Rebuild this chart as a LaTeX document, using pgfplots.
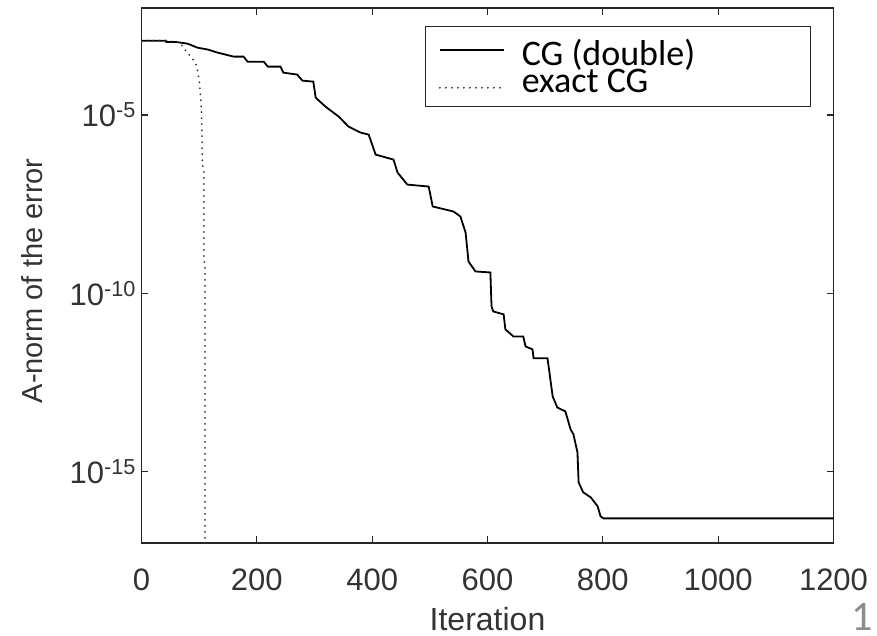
\documentclass[border=0pt]{standalone}
\usepackage{fontspec}
\setmainfont{Liberation Sans}
\newfontfamily\calibri{Carlito}
\usepackage{pgfplots}
\pgfplotsset{compat=1.18}
\pgfplotsset{
  leg a/.style={legend image code/.code={\path[draw=none,fill=none] (0bp,-12bp) rectangle (64bp,12bp); \draw[##1] (0bp,3.5bp) -- (64bp,3.5bp);}},
  leg b/.style={legend image code/.code={\path[draw=none,fill=none] (0bp,-12bp) rectangle (64bp,12bp); \draw[##1] (0bp,-7.5bp) -- (64bp,-7.5bp);}},
}
\begin{document}
\begin{tikzpicture}
\useasboundingbox (-141.5bp,-93bp) rectangle (735.5bp,543bp);
\begin{axis}[
  at={(0,0)}, anchor=south west,
  scale only axis, width=692bp, height=535bp,
  xmin=0, xmax=1200, ymin=1e-17, ymax=1e-2,
  ymode=log,
  xtick={0,200,400,600,800,1000,1200},
  ytick={1e-15,1e-10,1e-5},
  yticklabels={10\textsuperscript{-15},10\textsuperscript{-10},10\textsuperscript{-5}},
  yminorticks=false,
  tick align=inside, major tick length=7bp,
  axis line style={black!85, line width=1.2bp},
  axis background/.style={draw=black!85, line width=1.2bp},
  every tick/.style={black!85, line width=1.2bp},
  tick label style={font=\fontsize{31bp}{37bp}\selectfont, text=black!80},
  /pgf/number format/assume math mode=true,
  /pgf/number format/1000 sep={},
  scaled x ticks=false,
  xticklabel style={anchor=center, yshift=-37bp},
  yticklabel style={xshift=-2bp},
  xlabel={Iteration}, ylabel={A-norm of the error},
  xlabel style={font=\fontsize{32bp}{38bp}\selectfont, text=black!80, at={(axis description cs:0.5,-0.142)}, anchor=center},
  ylabel style={font=\fontsize{29bp}{35bp}\selectfont, text=black!80, at={(axis description cs:-0.1575,0.49)}, anchor=center},
  clip=true,
  legend style={at={(axis description cs:0.41,0.966)}, anchor=north west,
    draw=black!85, line width=1.2bp, inner xsep=13bp, inner ysep=13bp,
    row sep=0pt, column sep=17bp,
    font=\calibri\fontsize{36bp}{36bp}\selectfont,
    nodes={inner sep=0pt, text height=26bp, text depth=1bp}},
  legend cell align=left,
]
\addplot[black, line width=1.8bp, leg a] coordinates {
(0,1.213e-3)(43,1.213e-3)(43,1.117e-3)(59,1.117e-3)(80,1.0e-3)(97,7.73e-4)(116,6.79e-4)(132,5.60e-4)(160,4.33e-4)(177,4.33e-4)(184,3.13e-4)(212,3.13e-4)(219,2.27e-4)(241,2.27e-4)(246,1.54e-4)(270,1.36e-4)(279,9.20e-5)(298,8.63e-5)(302,3.07e-5)(319,1.72e-5)(342,9.02e-6)(359,4.73e-6)(380,3.21e-6)(394,2.82e-6)(406,7.76e-7)(437,5.62e-7)(444,2.44e-7)(461,1.12e-7)(498,9.86e-8)(505,2.72e-8)(541,1.97e-8)(553,1.43e-8)(562,5.08e-9)(567,7.83e-10)(579,4.11e-10)(605,3.85e-10)(607,4.30e-11)(610,3.11e-11)(628,2.57e-11)(631,9.77e-12)(645,6.17e-12)(662,6.17e-12)(666,3.24e-12)(678,2.69e-12)(680,1.51e-12)(704,1.51e-12)(706,8.91e-13)(713,1.29e-13)(721,6.31e-14)(735,4.90e-14)(744,1.55e-14)(749,1.12e-14)(756,3.47e-15)(758,5.01e-16)(766,2.63e-16)(779,1.91e-16)(791,1.07e-16)(796,5.62e-17)(801,4.90e-17)(1200,4.90e-17)
};
\addlegendentry{\makebox[276bp][l]{CG (double)}}
\addplot[black!80, line width=2bp, line cap=round, dash pattern=on 0bp off 6bp, leg b] coordinates {
(0,1.213e-3)(43,1.213e-3)(59,1.117e-3)(66,1.09e-3)(76.3,6.49e-4)(85,4.41e-4)(93.6,2.88e-4)(97,1.87e-4)(98.8,1.19e-4)(100.6,8.09e-5)(102.3,3.27e-5)(104,1.42e-5)(104.9,2.48e-6)(105.6,4.07e-7)(108,2.95e-7)(108,8.9e-10)(110.1,6.45e-10)(110.1,1e-18)
};
\addlegendentry{exact CG}
\end{axis}
\node[anchor=base west, inner sep=0pt, text=black!45, font=\calibri\fontsize{42bp}{42bp}\selectfont] at (710bp,-87bp) {1};
\end{tikzpicture}
\end{document}
